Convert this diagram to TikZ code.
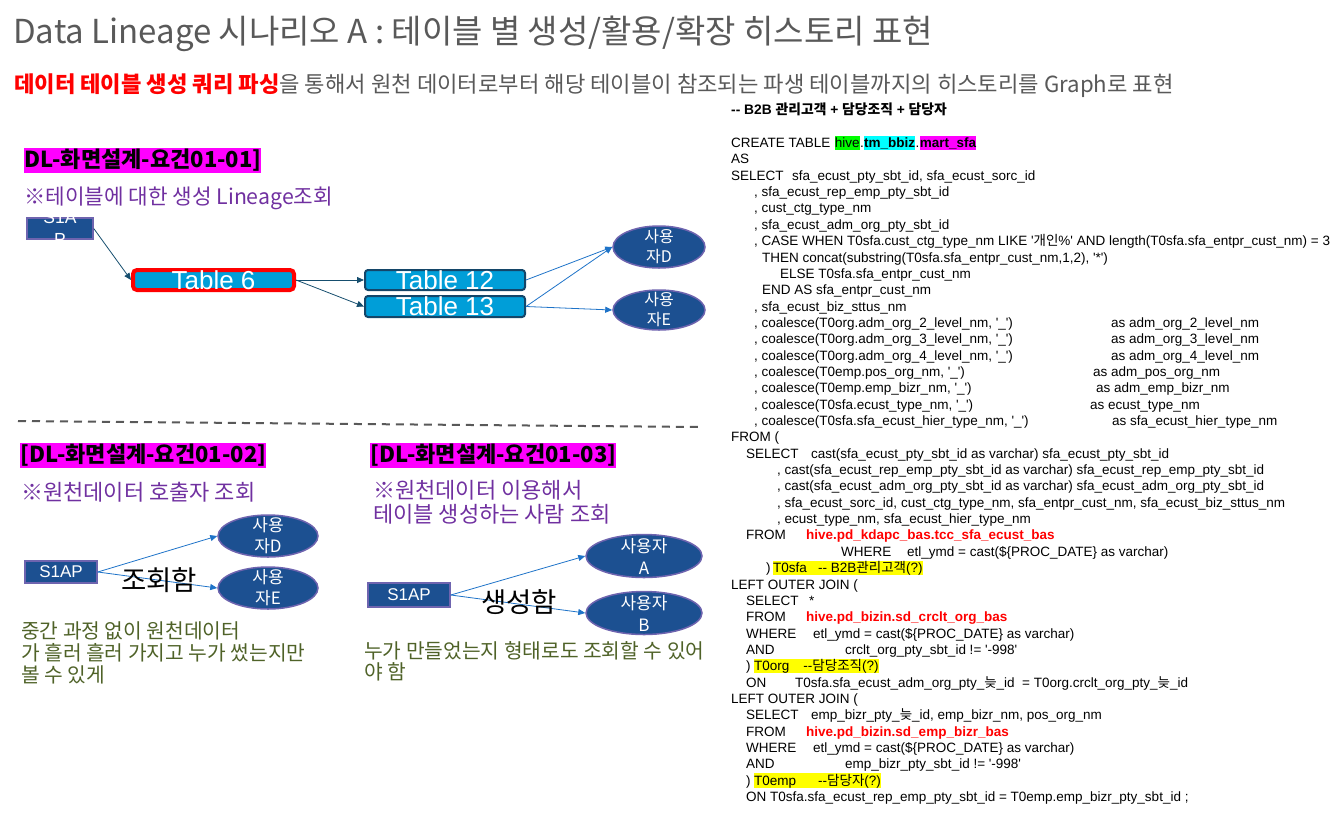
\documentclass[tikz,border=0pt]{standalone}
\usepackage{fontspec}
\setmainfont{Liberation Sans}[Ligatures=TeXOff]
\newfontfamily\kr{Noto Sans CJK KR}[Ligatures=TeXOff]
\usepackage{tikz}
\usetikzlibrary{shapes.geometric,arrows.meta}

\definecolor{navy}{RGB}{28,80,145}
\definecolor{navyedge}{RGB}{110,100,175}
\definecolor{tabfill}{RGB}{0,158,216}
\definecolor{tabedge}{RGB}{20,70,105}
\definecolor{arrdark}{RGB}{22,78,110}
\definecolor{arrblue}{RGB}{30,115,200}
\definecolor{notepurple}{RGB}{112,48,160}
\definecolor{noteolive}{RGB}{79,98,40}
\definecolor{titlegray}{RGB}{89,89,89}
\definecolor{hlgreen}{RGB}{0,255,0}
\definecolor{hlcyan}{RGB}{0,255,255}
\definecolor{hlmagenta}{RGB}{255,0,255}
\definecolor{hlyellow}{RGB}{255,255,0}

\begin{document}
\catcode`\_=12
\begin{tikzpicture}[x=1pt,y=-1pt,
	sql/.style={anchor=base west,inner sep=0pt,font=\fontsize{13.5}{16}\selectfont},
	sqlred/.style={sql,text=red,font=\fontsize{13.5}{16}\selectfont\bfseries},
	hl/.style={sql,fill=#1,text height=12pt,text depth=2.5pt},
	head/.style={anchor=base west,fill=hlmagenta,inner xsep=0pt,inner ysep=1pt,text height=18pt,text depth=5pt,font=\kr\fontsize{22}{22}\selectfont\bfseries},
	note/.style={anchor=base west,inner sep=0pt,text=notepurple,font=\kr\fontsize{22}{26}\selectfont},
	olive/.style={anchor=base west,inner sep=0pt,text=noteolive,font=\kr\fontsize{20.3}{24}\selectfont},
	srcbox/.style={draw=navyedge,line width=1.5pt,fill=navy,inner sep=0pt},
	boxtxt/.style={text=white,align=center,inner sep=0pt,font=\fontsize{17.5}{22}\selectfont},
	tab/.style={draw=tabedge,line width=2pt,fill=tabfill,rounded corners=3pt,minimum width=160pt,minimum height=20pt,inner sep=0pt,text=white,text height=19pt,text depth=1pt,font=\fontsize{26}{26}\selectfont},
	user/.style={ellipse,draw=navyedge,line width=1.5pt,fill=navy,inner sep=0pt},
	usertxt/.style={text=white,align=center,inner sep=0pt,font=\kr\fontsize{16}{20}\selectfont},
	darrow/.style={draw=arrdark,line width=0.8pt,-{Triangle[length=7pt,width=6pt]}},
	barrow/.style={draw=arrblue,line width=0.8pt,-{Triangle[length=7pt,width=6pt]}},
	verb/.style={inner sep=0pt,font=\kr\fontsize{27.5}{27.5}\selectfont}]

	\useasboundingbox (0,0) rectangle (1344,812);

	% title
	\node[anchor=base west,inner sep=0pt,text=titlegray,font=\kr\fontsize{33}{33}\selectfont] (title) at (13,43) {Data Lineage 시나리오 A : 테이블 별 생성/활용/확장 히스토리 표현};
	\node[anchor=base west,inner sep=0pt,text=titlegray,font=\kr\fontsize{22.2}{26}\selectfont] (subtitle) at (14,92) {\textcolor{red}{\bfseries 데이터 테이블 생성 쿼리 파싱}을 통해서 원천 데이터로부터 해당 테이블이 참조되는 파생 테이블까지의 히스토리를 Graph로 표현};

	% 01-01
	\node[head] (h1) at (24,167) {DL-화면설계-요건01-01]};
	\node[note,font=\kr\fontsize{21.3}{26}\selectfont] (n1) at (24,204) {※테이블에 대한 생성 Lineage조회};
	\node[srcbox,minimum width=66pt,minimum height=21pt] (s1) at (60,228.5) {};
	\node[boxtxt] (s1t) at (s1) {S1A\\P};
	\node[tab,draw=red,line width=4pt,minimum width=161pt,rounded corners=4pt] (t6) at (213.5,280) {Table 6};
	\node[tab] (t12) at (445,280) {Table 12};
	\node[tab,minimum height=21pt] (t13) at (445,306.5) {Table 13};
	\node[user,minimum width=92pt,minimum height=42pt] (ud) at (659,247) {};
	\node[usertxt] (udt) at (ud) {사용\\자D};
	\node[user,minimum width=92pt,minimum height=40pt] (ue) at (659,310) {};
	\node[usertxt] (uet) at (ue) {사용\\자E};

	\draw[darrow] (s1.east) -- (t6.west);
	\draw[darrow] (t6.east) -- (t12.west);
	\draw[darrow] (t6.east) -- (t13.west);
	\draw[barrow] (t12.east) -- (ud.west);
	\draw[barrow] (t13.east) -- (ud.west);
	\draw[barrow] (t13.east) -- (ue.west);

	% divider
	\coordinate (dl) at (18,421);
	\coordinate (dr) at (699,427);
	\draw[titlegray,line width=2pt,dash pattern=on 8pt off 6pt] (dl) -- (dr);

	% 01-02
	\node[head] (h2) at (20,462) {[DL-화면설계-요건01-02]};
	\node[note] (n2) at (21,500) {※원천데이터 호출자 조회};
	\node[srcbox,minimum width=72pt,minimum height=22pt] (b2) at (61,572) {};
	\node[boxtxt,font=\fontsize{17}{20}\selectfont] (b2t) at (b2) {S1AP};
	\node[user,minimum width=100pt,minimum height=42pt] (d2) at (268,536) {};
	\node[usertxt,font=\kr\fontsize{17}{21}\selectfont] (d2t) at (d2) {사용\\자D};
	\node[user,minimum width=100pt,minimum height=42pt] (e2) at (268,588) {};
	\node[usertxt,font=\kr\fontsize{17}{21}\selectfont] (e2t) at (e2) {사용\\자E};
	\draw[barrow] (b2.east) -- (d2.west);
	\draw[barrow] (b2.east) -- (e2.west);
	\node[verb] (v2) at (159,580) {조회함};
	\node[olive] (o21) at (21,638) {중간 과정 없이 원천데이터};
	\node[olive] (o22) at (21,660) {가 흘러 흘러 가지고 누가 썼는지만};
	\node[olive] (o23) at (21,682) {볼 수 있게};

	% 01-03
	\node[head] (h3) at (370,462) {[DL-화면설계-요건01-03]};
	\node[note] (n31) at (373,498) {※원천데이터 이용해서};
	\node[note] (n32) at (373,522) {테이블 생성하는 사람 조회};
	\node[srcbox,minimum width=82pt,minimum height=24pt] (b3) at (409,595) {};
	\node[boxtxt,font=\fontsize{17}{20}\selectfont] (b3t) at (b3) {S1AP};
	\node[user,minimum width=116pt,minimum height=43pt] (a3) at (644,556) {};
	\node[usertxt,font=\kr\fontsize{17}{22}\selectfont] (a3t) at (a3) {사용자\\A};
	\node[user,minimum width=116pt,minimum height=43pt] (bb3) at (644,613) {};
	\node[usertxt,font=\kr\fontsize{17}{22}\selectfont] (bb3t) at (bb3) {사용자\\B};
	\draw[barrow] (b3.east) -- (a3.west);
	\draw[barrow] (b3.east) -- (bb3.west);
	\node[verb] (v3) at (519,602) {생성함};
	\node[olive] (o31) at (364,658) {누가 만들었는지 형태로도 조회할 수 있어};
	\node[olive] (o32) at (364,679) {야 함};

	% query
	\node[sql,font=\fontsize{13.8}{16}\selectfont\bfseries] (qh) at (731,114.5) {-- B2B {\kr 관리고객} + {\kr 담당조직} + {\kr 담당자}};
	\node[sql] (l0) at (731,147.5) {CREATE TABLE};
	\node[hl=hlgreen] (l0a) at ([xshift=4pt]l0.base east) {hive};
	\node[sql] (l0b) at (l0a.base east) {.};
	\node[hl=hlcyan,font=\fontsize{13.5}{16}\selectfont\bfseries] (l0c) at (l0b.base east) {tm_bbiz};
	\node[sql] (l0d) at (l0c.base east) {.};
	\node[hl=hlmagenta,font=\fontsize{13.5}{16}\selectfont\bfseries] (l0e) at (l0d.base east) {mart_sfa};
	\node[sql] (l1) at (731,163.9) {AS};
	\node[sql] (l2) at (731,180.2) {SELECT};
	\node[sql] (l2a) at (792,180.2) {sfa_ecust_pty_sbt_id, sfa_ecust_sorc_id};
	\node[sql] (l3) at (754,196.6) {, sfa_ecust_rep_emp_pty_sbt_id};
	\node[sql] (l4) at (754,212.9) {, cust_ctg_type_nm};
	\node[sql] (l5) at (754,229.3) {, sfa_ecust_adm_org_pty_sbt_id};
	\node[sql] (l6) at (754,245.6) {, CASE WHEN T0sfa.cust_ctg_type_nm LIKE '{\kr 개인}\%' AND length(T0sfa.sfa_entpr_cust_nm) = 3};
	\node[sql] (l7) at (762,262.0) {THEN concat(substring(T0sfa.sfa_entpr_cust_nm,1,2), '*')};
	\node[sql] (l8) at (780,278.3) {ELSE T0sfa.sfa_entpr_cust_nm};
	\node[sql] (l9) at (762,294.7) {END AS sfa_entpr_cust_nm};
	\node[sql] (l10) at (754,311.0) {, sfa_ecust_biz_sttus_nm};
	\node[sql] (l11) at (754,327.4) {, coalesce(T0org.adm_org_2_level_nm, '_')};
	\node[sql] (l11a) at (1111,327.4) {as adm_org_2_level_nm};
	\node[sql] (l12) at (754,343.7) {, coalesce(T0org.adm_org_3_level_nm, '_')};
	\node[sql] (l12a) at (1111,343.7) {as adm_org_3_level_nm};
	\node[sql] (l13) at (754,360.1) {, coalesce(T0org.adm_org_4_level_nm, '_')};
	\node[sql] (l13a) at (1111,360.1) {as adm_org_4_level_nm};
	\node[sql] (l14) at (754,376.4) {, coalesce(T0emp.pos_org_nm, '_')};
	\node[sql] (l14a) at (1093,376.4) {as adm_pos_org_nm};
	\node[sql] (l15) at (754,392.8) {, coalesce(T0emp.emp_bizr_nm, '_')};
	\node[sql] (l15a) at (1096,392.8) {as adm_emp_bizr_nm};
	\node[sql] (l16) at (754,409.1) {, coalesce(T0sfa.ecust_type_nm, '_')};
	\node[sql] (l16a) at (1090,409.1) {as ecust_type_nm};
	\node[sql] (l17) at (754,425.5) {, coalesce(T0sfa.sfa_ecust_hier_type_nm, '_')};
	\node[sql] (l17a) at (1112,425.5) {as sfa_ecust_hier_type_nm};
	\node[sql] (l18) at (731,441.8) {FROM (};
	\node[sql] (l19) at (746,458.2) {SELECT};
	\node[sql] (l19a) at (811,458.2) {cast(sfa_ecust_pty_sbt_id as varchar) sfa_ecust_pty_sbt_id};
	\node[sql] (l20) at (777,474.5) {, cast(sfa_ecust_rep_emp_pty_sbt_id as varchar) sfa_ecust_rep_emp_pty_sbt_id};
	\node[sql] (l21) at (777,490.9) {, cast(sfa_ecust_adm_org_pty_sbt_id as varchar) sfa_ecust_adm_org_pty_sbt_id};
	\node[sql] (l22) at (777,507.2) {, sfa_ecust_sorc_id, cust_ctg_type_nm, sfa_entpr_cust_nm, sfa_ecust_biz_sttus_nm};
	\node[sql] (l23) at (777,523.6) {, ecust_type_nm, sfa_ecust_hier_type_nm};
	\node[sql] (l24) at (746,539.9) {FROM};
	\node[sqlred] (l24a) at (806,539.9) {hive.pd_kdapc_bas.tcc_sfa_ecust_bas};
	\node[sql] (l25) at (841,556.3) {WHERE};
	\node[sql] (l25a) at (907,556.3) {etl_ymd = cast(\$\{PROC_DATE\} as varchar)};
	\node[sql] (l26) at (766,572.6) {)};
	\node[hl=hlyellow] (l26a) at (773,572.6) {T0sfa\ \ \ -- B2B{\kr 관리고객}(?)};
	\node[sql] (l27) at (731,589.0) {LEFT OUTER JOIN (};
	\node[sql] (l28) at (746,605.3) {SELECT};
	\node[sql] (l28a) at (809,605.3) {*};
	\node[sql] (l29) at (746,621.7) {FROM};
	\node[sqlred] (l29a) at (806,621.7) {hive.pd_bizin.sd_crclt_org_bas};
	\node[sql] (l30) at (746,638.0) {WHERE};
	\node[sql] (l30a) at (813,638.0) {etl_ymd = cast(\$\{PROC_DATE\} as varchar)};
	\node[sql] (l31) at (746,654.4) {AND};
	\node[sql] (l31a) at (845,654.4) {crclt_org_pty_sbt_id != '-998'};
	\node[sql] (l32) at (746,670.7) {)};
	\node[hl=hlyellow] (l32a) at (754,670.7) {T0org\hspace{14pt}--{\kr 담당조직}(?)};
	\node[sql] (l33) at (746,687.1) {ON};
	\node[sql] (l33a) at (795,687.1) {T0sfa.sfa_ecust_adm_org_pty_{\kr 늦}_id\ \ = T0org.crclt_org_pty_{\kr 늦}_id};
	\node[sql] (l34) at (731,703.4) {LEFT OUTER JOIN (};
	\node[sql] (l35) at (746,719.8) {SELECT};
	\node[sql] (l35a) at (811,719.8) {emp_bizr_pty_{\kr 늦}_id, emp_bizr_nm, pos_org_nm};
	\node[sql] (l36) at (746,736.1) {FROM};
	\node[sqlred] (l36a) at (806,736.1) {hive.pd_bizin.sd_emp_bizr_bas};
	\node[sql] (l37) at (746,752.5) {WHERE};
	\node[sql] (l37a) at (813,752.5) {etl_ymd = cast(\$\{PROC_DATE\} as varchar)};
	\node[sql] (l38) at (746,768.8) {AND};
	\node[sql] (l38a) at (845,768.8) {emp_bizr_pty_sbt_id != '-998'};
	\node[sql] (l39) at (746,785.2) {)};
	\node[hl=hlyellow] (l39a) at (754,785.2) {T0emp\hspace{22pt}--{\kr 담당자}(?)};
	\node[sql] (l40) at (746,801.5) {ON T0sfa.sfa_ecust_rep_emp_pty_sbt_id = T0emp.emp_bizr_pty_sbt_id ;};
\end{tikzpicture}
\end{document}
